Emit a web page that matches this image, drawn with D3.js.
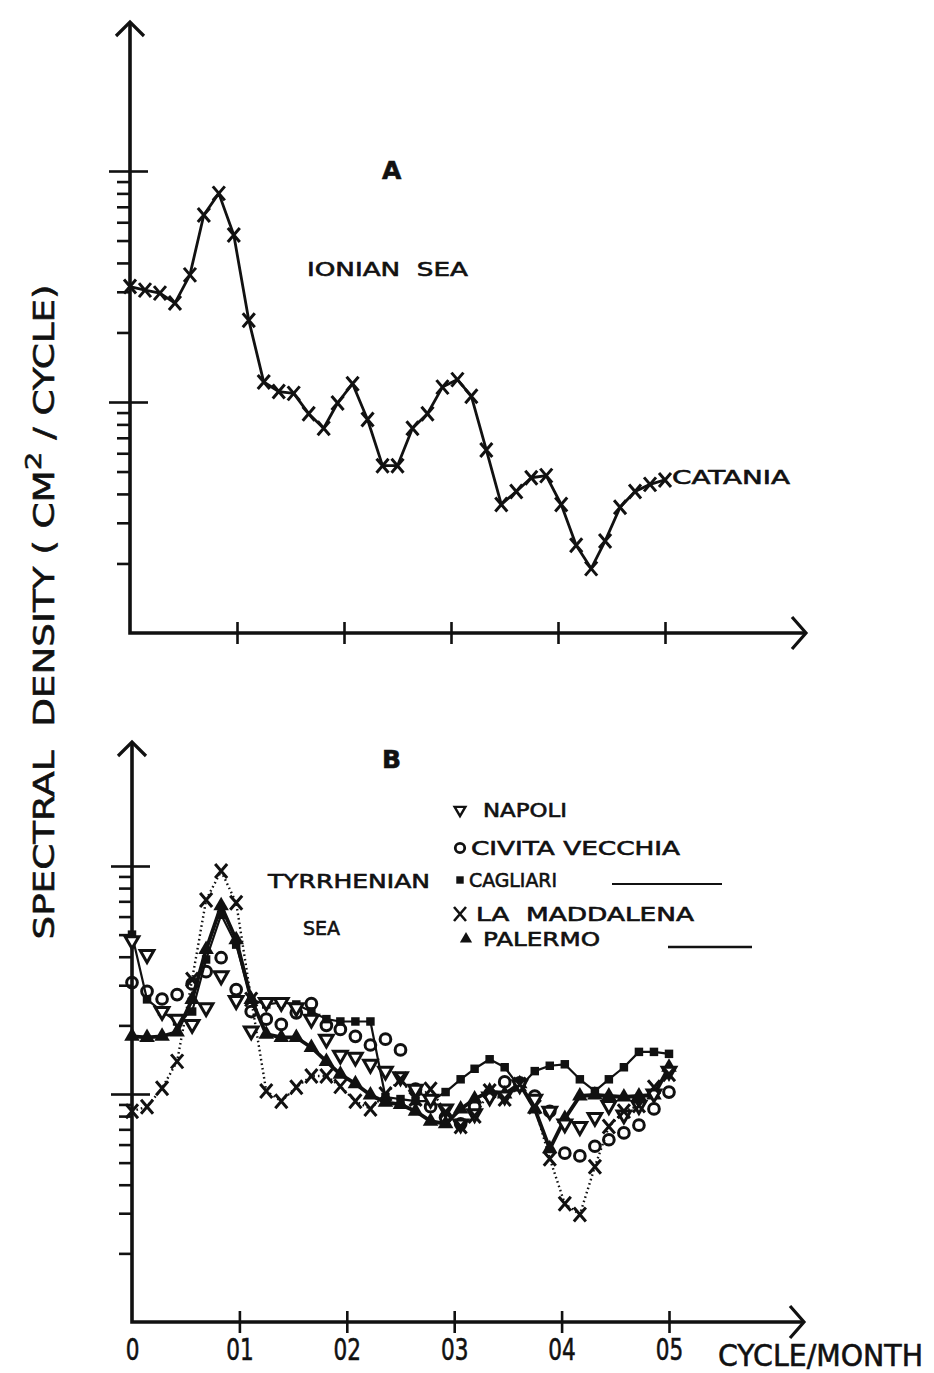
<!DOCTYPE html>
<html>
<head>
<meta charset="utf-8">
<script src="https://cdn.jsdelivr.net/npm/d3@7"></script>
<style>
  body { margin: 0; background: #fff; }
  svg text { font-family: 'DejaVu Sans', sans-serif; fill: #111; white-space: pre; stroke: #111; stroke-width: 0.6; }
</style>
</head>
<body>
<div id="chart"></div>
<script>
// frequency (cycle/month), 37 estimates from 0 to 0.5
const freq = [0, 0.014, 0.028, 0.042, 0.056, 0.069, 0.083, 0.097, 0.111, 0.125, 0.139, 0.153,
  0.167, 0.181, 0.194, 0.208, 0.222, 0.236, 0.25, 0.264, 0.278, 0.292, 0.306, 0.319, 0.333,
  0.347, 0.361, 0.375, 0.389, 0.403, 0.417, 0.431, 0.444, 0.458, 0.472, 0.486, 0.5];

// A - Ionian sea
const catania = [31.6, 30.5, 29.6, 26.8, 35.5, 64.5, 80, 52.8, 22.6, 12.2, 11.1, 10.9, 8.9, 7.7,
  9.9, 12.0, 8.4, 5.3, 5.3, 7.7, 8.9, 11.6, 12.5, 10.6, 6.2, 3.6, 4.1, 4.7, 4.8, 3.6, 2.4, 1.9,
  2.5, 3.5, 4.1, 4.4, 4.6];

// B - Tyrrhenian sea
const napoli = [47, 40.9, 23.0, 21.3, 20.2, 23.9, 33.0, 25.7, 18.9, 25.2, 25.2, 23.9, 21.3, 17.4,
  14.8, 14.5, 13.5, 12.6, 11.9, 10.5, 9.5, 8.6, 7.4, 8.2, 9.7, 9.8, 11.0, 9.5, 8.4, 7.4, 7.2, 7.9,
  8.9, 8.1, 8.9, 10.0, 12.6];
const civitaVecchia = [30.8, 28.2, 26.1, 27.3, 30.4, 34.4, 39.6, 28.7, 23.0, 21.3, 20.2, 22.7,
  24.9, 20.0, 19.2, 17.9, 16.4, 17.4, 15.6, 10.5, 8.8, 7.9, 7.4, 8.8, 10.0, 11.3, 11.2, 9.8, 8.4,
  5.5, 5.35, 5.9, 6.3, 6.75, 7.3, 8.6, 10.2];
const cagliari = [50.0, 26.0, 23.0, 20.8, 23.0, 38.9, 61.1, 45.2, 26.0, 24.7, 25.2, 24.7, 23.0,
  21.3, 20.8, 20.8, 20.8, 9.7, 9.5, 9.3, 9.3, 10.2, 11.6, 12.9, 14.2, 13.1, 10.7, 12.6, 13.3,
  13.5, 11.6, 10.3, 11.6, 13.1, 15.3, 15.3, 15.0];
const laMaddalena = [8.4, 8.8, 10.6, 13.9, 31.8, 71, 95, 69, 26, 10.3, 9.3, 10.7, 12.0, 12.0,
  10.8, 9.3, 8.6, 10, 11.6, 9.5, 10.5, 8.35, 7.2, 8.0, 10.3, 9.5, 11, 8.8, 5.2, 3.3, 2.96, 4.8,
  7.2, 8.4, 8.9, 10.7, 12.2];
const palermo = [17.9, 17.7, 17.9, 18.7, 26.0, 43.0, 66.9, 47.5, 26.0, 18.3, 17.7, 17.7, 16.0,
  13.9, 12.2, 11.1, 9.9, 9.2, 9.0, 8.4, 7.6, 7.4, 8.6, 9.5, 10.3, 10.0, 11.1, 8.6, 5.75, 7.8,
  9.8, 9.9, 9.8, 9.7, 9.8, 9.9, 13.1];

const xTickValues = [0, 0.1, 0.2, 0.3, 0.4, 0.5];
const xTickLabels = ['0', '01', '02', '03', '04', '05'];
const yMajor = [10, 100];
const yMinor = [2, 3, 4, 5, 6, 7, 8, 9, 20, 30, 40, 50, 60, 70, 80, 90];
const legendNames = ['NAPOLI', 'CIVITA VECCHIA', 'CAGLIARI', 'LA  MADDALENA', 'PALERMO'];

const width = 934;
const height = 1373;

const svg = d3.select('#chart')
  .append('svg')
  .attr('width', width)
  .attr('height', height);

const xA = d3.scaleLinear().domain([0, 0.5]).range([130, 665]);
const yA = d3.scaleLog().domain([1, 100]).range([633, 171]);
const xB = d3.scaleLinear().domain([0, 0.5]).range([132, 669]);
const yB = d3.scaleLog().domain([1, 100]).range([1322, 866]);

function frame(x, y, topY, rightX) {
  const g = svg.append('g');
  const x0 = x(0);
  const base = y(1);

  // minor ticks, left side only
  g.append('g')
    .attr('transform', `translate(${x0},0)`)
    .call(d3.axisLeft(y).tickValues(yMinor).tickSize(13).tickFormat(''));
  // major ticks cross the axis
  g.append('g')
    .attr('transform', `translate(${x0},0)`)
    .call(d3.axisLeft(y).tickValues(yMajor).tickSize(21).tickFormat(''));
  g.append('g')
    .attr('transform', `translate(${x0},0)`)
    .call(d3.axisRight(y).tickValues(yMajor).tickSize(18).tickFormat(''));
  // x ticks cross the axis
  g.append('g')
    .attr('transform', `translate(0,${base})`)
    .call(d3.axisBottom(x).tickValues(xTickValues.slice(1)).tickSize(11).tickFormat(''));
  g.append('g')
    .attr('transform', `translate(0,${base})`)
    .call(d3.axisTop(x).tickValues(xTickValues.slice(1)).tickSize(11).tickFormat(''));

  g.selectAll('.domain').remove();
  g.selectAll('.tick line').attr('stroke', '#111').attr('stroke-width', 2.6);

  g.append('path')
    .attr('d', `M${x0},${topY}V${base}H${rightX}`)
    .attr('fill', 'none').attr('stroke', '#111').attr('stroke-width', 3.6);
  // arrow heads
  g.append('path')
    .attr('d', `M${x0 - 14},${topY + 14}L${x0},${topY}L${x0 + 14},${topY + 14}`)
    .attr('fill', 'none').attr('stroke', '#111').attr('stroke-width', 3.2);
  g.append('path')
    .attr('d', `M${rightX - 14},${base - 16}L${rightX},${base}L${rightX - 14},${base + 16}`)
    .attr('fill', 'none').attr('stroke', '#111').attr('stroke-width', 3.2);
  return g;
}

frame(xA, yA, 22, 806);
frame(xB, yB, 742, 804);

// x tick labels (panel B)
const xLab = svg.append('g')
  .attr('transform', `translate(0,${yB(1)})`)
  .call(d3.axisBottom(xB).tickValues(xTickValues).tickSize(0).tickPadding(17)
    .tickFormat((d, i) => xTickLabels[i]));
xLab.select('.domain').remove();
xLab.selectAll('text')
  .attr('font-size', 30)
  .attr('font-family', 'DejaVu Sans, sans-serif')
  .attr('transform', 'scale(0.72,1)')
  .attr('fill', '#111');

svg.append('text')
  .attr('x', 718).attr('y', 1366)
  .attr('font-size', 30)
  .attr('textLength', 205)
  .attr('lengthAdjust', 'spacingAndGlyphs')
  .text('CYCLE/MONTH');

// y title
const yTitle = svg.append('text')
  .attr('transform', 'translate(54,612) rotate(-90)')
  .attr('text-anchor', 'middle')
  .attr('font-size', 28)
  .attr('textLength', 655)
  .attr('lengthAdjust', 'spacingAndGlyphs');
yTitle.append('tspan').text('SPECTRAL  DENSITY ( CM');
yTitle.append('tspan').attr('dy', -13).attr('font-size', 22).text('2');
yTitle.append('tspan').attr('dy', 13).text(' / CYCLE)');

// marker shapes
const crossPath = 'M-6,-7L6,7M6,-7L-6,7';
const triDown = d3.symbol().type(d3.symbolTriangle).size(80)();
const triUp = d3.symbol().type(d3.symbolTriangle).size(105)();
const square = d3.symbol().type(d3.symbolSquare).size(72)();

function markers(g, x, y, values, kind) {
  const sel = g.append('g').selectAll('path')
    .data(values)
    .join('path')
    .attr('transform', (d, i) => `translate(${x(freq[i])},${y(d)})` + (kind === 'down' ? ' rotate(180)' : ''));
  if (kind === 'cross') {
    sel.attr('d', crossPath).attr('fill', 'none').attr('stroke', '#111').attr('stroke-width', 3);
  } else if (kind === 'down') {
    sel.attr('d', triDown).attr('fill', '#fff').attr('stroke', '#111').attr('stroke-width', 3);
  } else if (kind === 'circle') {
    sel.attr('d', d3.symbol().type(d3.symbolCircle).size(90)())
      .attr('fill', 'none').attr('stroke', '#111').attr('stroke-width', 3);
  } else if (kind === 'square') {
    sel.attr('d', square).attr('fill', '#111');
  } else if (kind === 'up') {
    sel.attr('d', triUp).attr('fill', '#111');
  }
}

function line(g, x, y, values, widthPx, dash) {
  g.append('path')
    .datum(values)
    .attr('d', d3.line().x((d, i) => x(freq[i])).y((d) => y(d)))
    .attr('fill', 'none')
    .attr('stroke', '#111')
    .attr('stroke-width', widthPx)
    .attr('stroke-linejoin', 'round')
    .attr('stroke-dasharray', dash || null);
}

// panel A
const gA = svg.append('g');
line(gA, xA, yA, catania, 2.8);
markers(gA, xA, yA, catania, 'cross');

// panel B
const gB = svg.append('g');
line(gB, xB, yB, laMaddalena, 2.4, '1.6,3');
line(gB, xB, yB, cagliari, 2.2);
line(gB, xB, yB, palermo, 3.8);
markers(gB, xB, yB, cagliari, 'square');
markers(gB, xB, yB, palermo, 'up');
markers(gB, xB, yB, civitaVecchia, 'circle');
markers(gB, xB, yB, napoli, 'down');
markers(gB, xB, yB, laMaddalena, 'cross');

// labels
function label(txt, x, y, size, len) {
  const t = svg.append('text').attr('x', x).attr('y', y).attr('font-size', size).text(txt);
  if (len) t.attr('textLength', len).attr('lengthAdjust', 'spacingAndGlyphs');
  return t;
}
label('A', 382, 179, 25).attr('font-weight', 'bold');
label('IONIAN  SEA', 307, 276, 19, 161);
label('CATANIA', 672, 484, 19, 118);
label('B', 382, 768, 25).attr('font-weight', 'bold');
label('TYRRHENIAN', 268, 888, 19, 162);
label('SEA', 303, 935, 19, 37);

// legend
const legendY = [810, 848, 880, 914, 939];
const legendX = [483, 471, 469, 476, 483];
const legendLen = [84, 209, 88, 218, 117];
const legendKinds = ['down', 'circle', 'square', 'cross', 'up'];
const leg = svg.append('g');
legendNames.forEach((name, i) => {
  const mx = i === 4 ? 466 : 460;
  const p = leg.append('path')
    .attr('transform', `translate(${mx},${legendY[i]})` + (legendKinds[i] === 'down' ? ' rotate(180)' : ''));
  if (legendKinds[i] === 'down') p.attr('d', d3.symbol().type(d3.symbolTriangle).size(50)()).attr('fill', 'none').attr('stroke', '#111').attr('stroke-width', 2.4);
  if (legendKinds[i] === 'circle') p.attr('d', d3.symbol().type(d3.symbolCircle).size(70)()).attr('fill', 'none').attr('stroke', '#111').attr('stroke-width', 2.8);
  if (legendKinds[i] === 'square') p.attr('d', d3.symbol().type(d3.symbolSquare).size(55)()).attr('fill', '#111');
  if (legendKinds[i] === 'cross') p.attr('d', crossPath).attr('fill', 'none').attr('stroke', '#111').attr('stroke-width', 2.6);
  if (legendKinds[i] === 'up') p.attr('d', d3.symbol().type(d3.symbolTriangle).size(65)()).attr('fill', '#111');
  leg.append('text')
    .attr('x', legendX[i]).attr('y', legendY[i] + 7)
    .attr('font-size', 19)
    .attr('textLength', legendLen[i])
    .attr('lengthAdjust', 'spacingAndGlyphs')
    .text(name);
});
leg.append('line').attr('x1', 612).attr('x2', 722).attr('y1', 884).attr('y2', 884)
  .attr('stroke', '#111').attr('stroke-width', 1.8);
leg.append('line').attr('x1', 668).attr('x2', 752).attr('y1', 947).attr('y2', 947)
  .attr('stroke', '#111').attr('stroke-width', 2.4);
</script>
</body>
</html>
